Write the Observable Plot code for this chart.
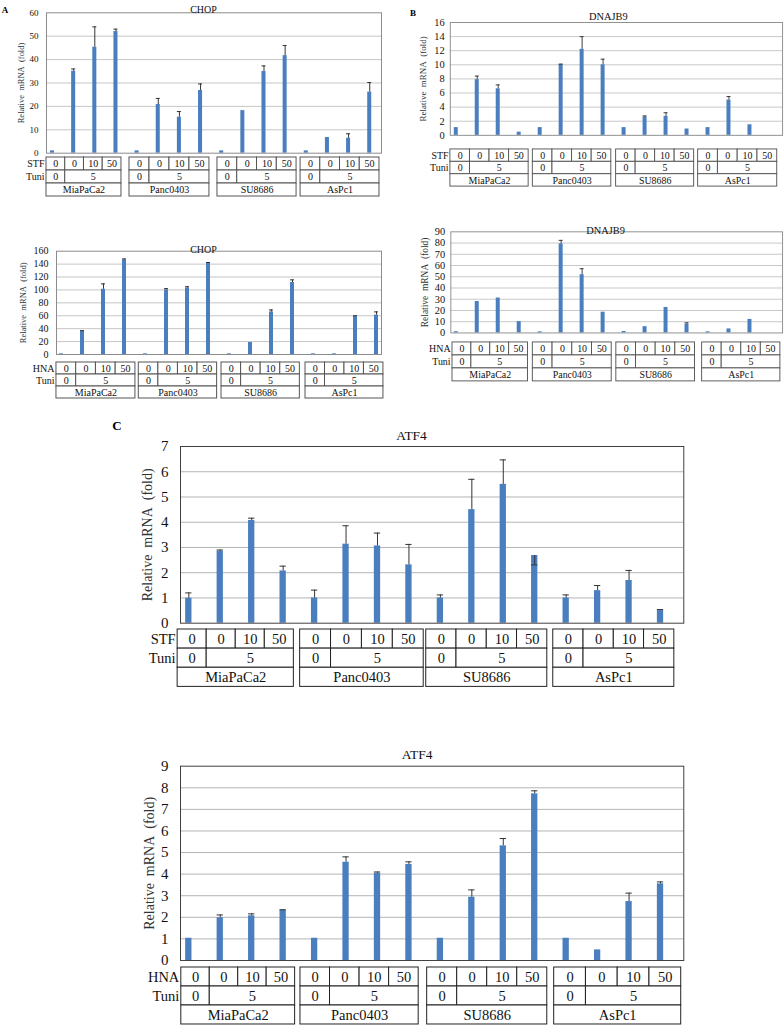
<!DOCTYPE html>
<html><head><meta charset="utf-8">
<script src="https://cdn.jsdelivr.net/npm/d3@7"></script>
<script src="https://cdn.jsdelivr.net/npm/@observablehq/plot@0.6"></script>
<style>
html,body{margin:0;padding:0;background:#fff;overflow:hidden;width:784px;height:1026px;}
#page{position:relative;width:784px;height:1026px;overflow:hidden;background:#fff;}
.abs{position:absolute;}
.tag{position:absolute;font-family:'Liberation Serif','Times New Roman',serif;font-weight:bold;transform:translate(-50%,-50%);line-height:1;}
svg{overflow:visible}
</style></head><body><div id="page"></div>
<script>
// ---- categories / labels ----
const cellLines = ["MiaPaCa2", "Panc0403", "SU8686", "AsPc1"];
const drugDoses = ["0", "0", "10", "50"];
const tuniDoses = ["0", "5"];
const yLabel = "Relative\u00a0 mRNA\u00a0 (fold)";

// ---- A: CHOP ----
const chopStf    = [1, 35, 45.3, 52, 1, 20.8, 15.4, 26.8, 1, 18.2, 34.9, 41.7, 1, 6.7, 6.4, 26.1];
const chopStfErr = [null, 36, 54, 53, null, 23.4, 17.8, 29.6, null, null, 37.3, 46, null, null, 8.3, 30.2];
const chopHna    = [1, 36, 101, 146.6, 1, 100, 103, 141.4, 1, 18.6, 66, 111.5, 1, 1, 58.8, 61];
const chopHnaErr = [null, 37, 109.4, 148, null, 102, 105, 142.5, null, null, 69, 115.6, null, null, 60, 66];

// ---- B: DNAJB9 ----
const dnaStf    = [1.1, 7.9, 6.6, 0.45, 1.1, 10.05, 12.2, 10.0, 1.1, 2.6, 2.7, 0.9, 1.1, 5.0, 1.5, null];
const dnaStfErr = [null, 8.4, 7.15, null, null, 10.1, 14.0, 10.8, null, 2.75, 3.2, null, null, 5.5, null, null];
const dnaHna    = [1.1, 28, 31.1, 10.1, 1.0, 79.3, 51.9, 18.5, 1.3, 5.6, 22.7, 7.85, 1.0, 3.6, 12.1, null];
const dnaHnaErr = [null, null, null, null, null, 82.4, 57.2, null, null, null, null, 9, null, null, null, null];

// ---- C: ATF4 ----
const atfStf    = [0.99, 2.85, 4.07, 2.07, 1.0, 3.13, 3.06, 2.31, 1.0, 4.5, 5.5, 2.68, 1.0, 1.29, 1.69, 0.5];
const atfStfErr = [1.2, 2.9, 4.16, 2.26, 1.31, 3.86, 3.57, 3.12, 1.12, 5.7, 6.47, 2.31, 1.12, 1.49, 2.09, 0.54];
const atfHna    = [1.03, 1.98, 2.07, 2.33, 1.03, 4.55, 4.04, 4.45, 1.03, 2.93, 5.31, 7.72, 1.03, 0.49, 2.73, 3.55];
const atfHnaErr = [null, 2.11, 2.16, 2.35, null, 4.8, 4.1, 4.57, null, 3.27, 5.65, 7.86, null, null, 3.12, 3.64];

const SERIF = "Liberation Serif, Times New Roman, serif";
const BAR = "#4a7ebf";
const ERR = "#333333";

const panels = [
  {title: "CHOP", values: chopStf, errs: chopStfErr, rowLabels: ["STF", "Tuni"],
   frame: {l: 46, r: 381, t: 12.3, b: 152.7}, svgLeft: 0, svgTop: 0, xDomain: [-0.284, 15.556],
   yMax: 60, yStep: 10, titleX: 203, titleY: 5, titleSize: 10, ylabX: 21, ylabSize: 8.5,
   tickSize: 9, tickPad: 8, barW: 0.19, frameColor: "#8c8c8c", gridColor: "#c6c6c6", lineColor: "#555",
   table: {top: 157, bottom: 196, fontSize: 10,
           groups: [[-0.284, 3.26], [3.64, 7.42], [7.8, 11.54], [11.73, 15.46]]}},
  {title: "CHOP", values: chopHna, errs: chopHnaErr, rowLabels: ["HNA", "Tuni"],
   frame: {l: 56, r: 381, t: 250.7, b: 354}, svgLeft: 0, svgTop: 236, xDomain: [-0.238, 15.238],
   yMax: 160, yStep: 20, titleX: 203, titleY: 245.5, titleSize: 10, ylabX: 23, ylabSize: 8.5,
   tickSize: 10, tickPad: 8, barW: 0.19, frameColor: "#8c8c8c", gridColor: "#c6c6c6", lineColor: "#555",
   table: {top: 361.5, bottom: 397.5, fontSize: 10,
           groups: [[-0.24, 3.52], [3.68, 7.41], [7.62, 11.35], [11.62, 15.33]]}},
  {title: "DNAJB9", values: dnaStf, errs: dnaStfErr, rowLabels: ["STF", "Tuni"],
   frame: {l: 452.7, r: 804.3, t: 23.3, b: 142.7}, svgLeft: 400, svgTop: 0, xDomain: [-0.284, 15.556],
   yMax: 16, yStep: 2, titleX: 620, titleY: 13.3, titleSize: 11, ylabX: 424, ylabSize: 9.5,
   tickSize: 11, tickPad: 6, barW: 0.19, frameColor: "#8c8c8c", gridColor: "#c6c6c6", lineColor: "#555",
   table: {top: 149, bottom: 188.3, fontSize: 10.5,
           groups: [[-0.28, 3.45], [3.65, 7.39], [7.62, 11.34], [11.53, 15.3]]}},
  {title: "DNAJB9", values: dnaHna, errs: dnaHnaErr, rowLabels: ["HNA", "Tuni"],
   frame: {l: 453.3, r: 804.3, t: 232.3, b: 339.3}, svgLeft: 400, svgTop: 215, xDomain: [-0.257, 15.556],
   yMax: 90, yStep: 10, titleX: 617, titleY: 226.7, titleSize: 11, ylabX: 426, ylabSize: 10,
   tickSize: 11, tickPad: 6, barW: 0.19, frameColor: "#8c8c8c", gridColor: "#c6c6c6", lineColor: "#555",
   table: {top: 342.3, bottom: 383.5, fontSize: 10.5,
           groups: [[-0.18, 3.42], [3.65, 7.41], [7.63, 11.38], [11.72, 15.45]]}},
  {title: "ATF4", values: atfStf, errs: atfStfErr, rowLabels: ["STF", "Tuni"],
   frame: {l: 180, r: 683.3, t: 446, b: 622.7}, svgLeft: 120, svgTop: 415, xDomain: [-0.264, 15.74],
   yMax: 7, yStep: 1, titleX: 411, titleY: 430, titleSize: 13.5, ylabX: 147.5, ylabSize: 14,
   tickSize: 15, tickPad: 12, barW: 0.2, frameColor: "#404040", gridColor: "#b4b4b4", lineColor: "#222",
   table: {top: 629.3, bottom: 686.7, fontSize: 14.5,
           groups: [[-0.356, 3.34], [3.54, 7.47], [7.55, 11.4], [11.59, 15.44]]}},
  {title: "ATF4", values: atfHna, errs: atfHnaErr, rowLabels: ["HNA", "Tuni"],
   frame: {l: 180, r: 683.3, t: 765.7, b: 960}, svgLeft: 120, svgTop: 735, xDomain: [-0.264, 15.74],
   yMax: 9, yStep: 1, titleX: 416.7, titleY: 749.3, titleSize: 13.5, ylabX: 148.7, ylabSize: 14,
   tickSize: 15, tickPad: 12, barW: 0.2, frameColor: "#404040", gridColor: "#b4b4b4", lineColor: "#222",
   table: {top: 967.3, bottom: 1024.3, fontSize: 14.5,
           groups: [[-0.24, 3.38], [3.55, 7.31], [7.58, 11.4], [11.62, 15.66]]}}
];

const page = document.getElementById("page");

function place(node, left, top) {
  const d = document.createElement("div");
  d.className = "abs";
  d.style.left = left + "px";
  d.style.top = top + "px";
  d.appendChild(node);
  page.appendChild(d);
}

function render(cfg) {
  const f = cfg.frame, mr = 2, mb = 2;
  const ml = f.l - cfg.svgLeft, mt = f.t - cfg.svgTop;
  const width = f.r - cfg.svgLeft + mr;
  const height = f.b - cfg.svgTop + mb;
  const pxPerX = (f.r - f.l) / (cfg.xDomain[1] - cfg.xDomain[0]);
  const labX = cfg.xDomain[0] + (cfg.ylabX - f.l) / pxPerX;
  const rows = cfg.values.map((v, i) => ({i, v, e: cfg.errs[i]}));
  const bars = rows.filter(d => d.v != null);
  const errRows = rows.filter(d => d.v != null && d.e != null);
  const hw = cfg.barW / 2;
  const chart = Plot.plot({
    width, height, marginLeft: ml, marginRight: mr, marginTop: mt, marginBottom: mb,
    x: {domain: cfg.xDomain, axis: null},
    y: {domain: [0, cfg.yMax]},
    style: {fontFamily: SERIF, fontSize: cfg.tickSize + "px", background: "transparent", color: "#111", overflow: "visible"},
    marks: [
      Plot.gridY(d3.range(cfg.yStep, cfg.yMax - cfg.yStep / 2, cfg.yStep), {stroke: cfg.gridColor, strokeOpacity: 1}),
      Plot.rect(bars, {x1: d => d.i - hw, x2: d => d.i + hw, y1: 0, y2: "v", fill: BAR}),
      Plot.ruleX(errRows, {x: "i", y1: "v", y2: "e", stroke: ERR, strokeWidth: 1}),
      Plot.ruleY(errRows, {y: "e", x1: d => d.i - hw, x2: d => d.i + hw, stroke: ERR, strokeWidth: 1}),
      Plot.frame({stroke: cfg.frameColor}),
      Plot.axisY({ticks: d3.range(0, cfg.yMax + cfg.yStep / 2, cfg.yStep), tickFormat: d3.format("d"), tickSize: 0,
                  tickPadding: cfg.tickPad, label: null, fontSize: cfg.tickSize, fontFamily: SERIF}),
      Plot.text([cfg.title], {text: d => d, frameAnchor: "top", dx: cfg.titleX - (f.l + f.r) / 2, dy: cfg.titleY - f.t,
                              fontSize: cfg.titleSize, fontFamily: SERIF}),
      Plot.text([yLabel], {text: d => d, x: () => labX, y: () => cfg.yMax / 2, rotate: -90,
                           fontSize: cfg.ylabSize, fontFamily: SERIF, fill: "#333"})
    ]
  });
  place(chart, cfg.svgLeft, cfg.svgTop);

  // treatment table under the bars
  const t = cfg.table;
  const cells = [];
  cellLines.forEach((name, g) => {
    const [s, e] = t.groups[g], cw = (e - s) / 4;
    drugDoses.forEach((lab, c) => cells.push({x1: s + c * cw, x2: s + (c + 1) * cw, y1: 0, y2: 1, label: lab}));
    cells.push({x1: s, x2: s + cw, y1: 1, y2: 2, label: tuniDoses[0]});
    cells.push({x1: s + cw, x2: e, y1: 1, y2: 2, label: tuniDoses[1]});
    cells.push({x1: s, x2: e, y1: 2, y2: 3, label: name});
  });
  const tHeight = t.bottom - t.top + 2;
  const table = Plot.plot({
    width, height: tHeight, marginLeft: ml, marginRight: mr, marginTop: 1, marginBottom: 1,
    x: {domain: cfg.xDomain, axis: null},
    y: {domain: [0, 3], reverse: true, axis: null},
    style: {fontFamily: SERIF, fontSize: t.fontSize + "px", background: "transparent", color: "#111", overflow: "visible"},
    marks: [
      Plot.rect(cells, {x1: "x1", x2: "x2", y1: "y1", y2: "y2", stroke: cfg.lineColor, fill: "white", strokeWidth: 1}),
      Plot.text(cells, {x: d => (d.x1 + d.x2) / 2, y: d => (d.y1 + d.y2) / 2, text: "label", fontSize: t.fontSize, fontFamily: SERIF}),
      Plot.text(cfg.rowLabels, {text: d => d, x: () => t.groups[0][0], y: (d, i) => i + 0.5, textAnchor: "end", dx: -2,
                                fontSize: t.fontSize, fontFamily: SERIF})
    ]
  });
  place(table, cfg.svgLeft, t.top - 1);
}

panels.forEach(render);

// panel letters
[["A", 5, 10, 9], ["B", 413, 13, 9], ["C", 117, 425, 13]].forEach(([txt, x, y, s]) => {
  const d = document.createElement("div");
  d.className = "tag";
  d.style.left = x + "px";
  d.style.top = y + "px";
  d.style.fontSize = s + "px";
  d.textContent = txt;
  page.appendChild(d);
});
</script></body></html>
